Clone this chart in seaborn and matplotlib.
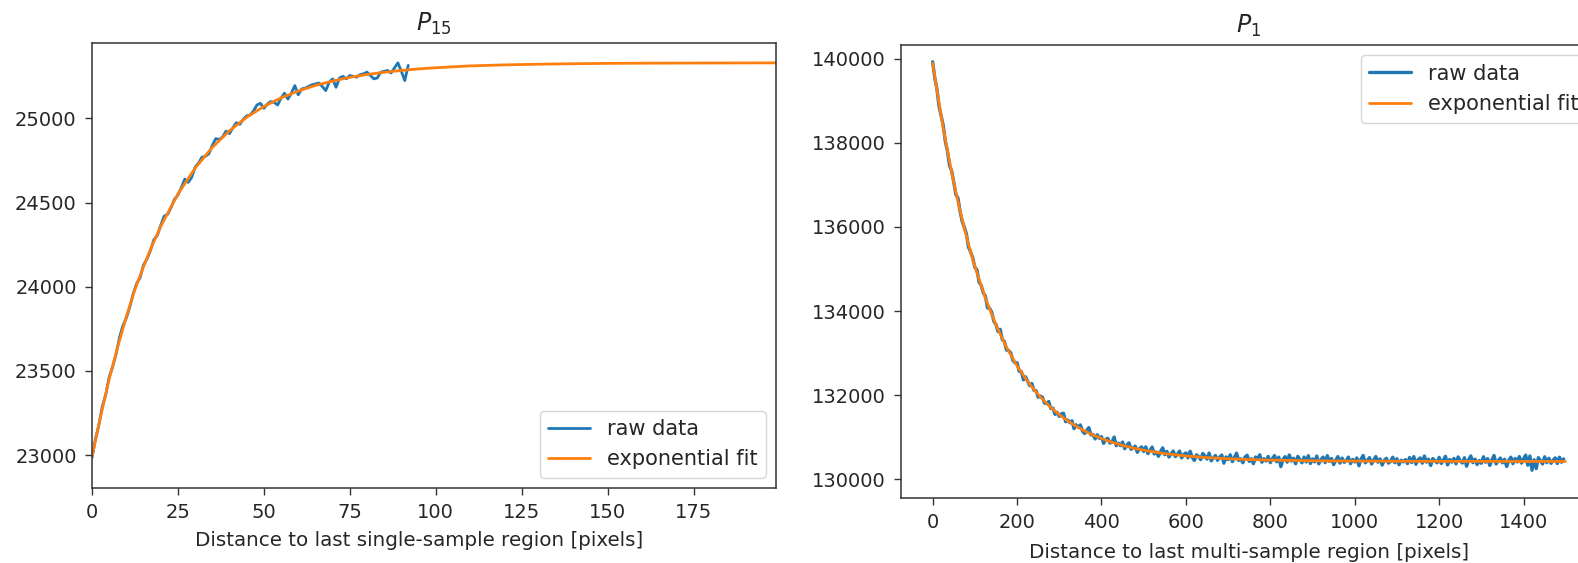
import matplotlib
matplotlib.use("Agg")
import matplotlib.pyplot as plt
import seaborn as sns
import numpy as np

# ---------------- data: left panel (P_15) ----------------
left_raw_x = list(range(0, 93))
left_raw_y = [
    22985, 23095, 23180, 23290, 23360, 23465, 23525, 23600, 23700, 23770,
    23815, 23880, 23960, 24020, 24055, 24130, 24165, 24215, 24280, 24305,
    24365, 24420, 24430, 24470, 24520, 24545, 24590, 24640, 24620, 24650,
    24710, 24735, 24770, 24775, 24790, 24840, 24880, 24875, 24890, 24925,
    24910, 24945, 24975, 24965, 24995, 25015, 25020, 25045, 25080, 25090,
    25060, 25085, 25100, 25095, 25080, 25120, 25150, 25115, 25150, 25195,
    25140, 25175, 25180, 25190, 25200, 25205, 25210, 25190, 25165, 25215,
    25235, 25185, 25240, 25250, 25235, 25255, 25250, 25245, 25260, 25265,
    25275, 25255, 25235, 25240, 25275, 25280, 25285, 25270, 25300, 25330,
    25280, 25225, 25315,
]
left_fit_x = [0, 2.5, 5, 7.5, 10, 12.5, 15, 17.5, 20, 25, 30, 35, 40, 45, 50, 55, 60, 65, 70,
              75, 80, 85, 90, 95, 100, 110, 120, 130, 140, 150, 160, 175, 199]
left_fit_y = [22990, 23230, 23452, 23645, 23823, 23985, 24121, 24245, 24359, 24551, 24705,
              24828, 24927, 25007, 25071, 25122, 25163, 25196, 25222, 25244, 25261, 25274,
              25285, 25294, 25301, 25312, 25318, 25322, 25325, 25327, 25328, 25329, 25330]

# ---------------- data: right panel (P_1) ----------------
right_raw_x = list(range(0, 1500, 5))
right_raw_y = [
    139930, 139547, 139292, 138877, 138648, 138420, 138037, 137808, 137464, 137334,
    137068, 136771, 136686, 136369, 136130, 135994, 135834, 135516, 135405, 135265,
    135036, 134979, 134686, 134610, 134429, 134352, 134076, 134065, 133973, 133756,
    133678, 133509, 133564, 133318, 133275, 133072, 133056, 133004, 132826, 132770,
    132767, 132563, 132561, 132362, 132435, 132331, 132224, 132275, 132113, 132103,
    131950, 131974, 131950, 131809, 131798, 131845, 131678, 131688, 131540, 131588,
    131493, 131554, 131566, 131365, 131405, 131341, 131388, 131202, 131291, 131232,
    131289, 131141, 131085, 131159, 131225, 131051, 131063, 130956, 131055, 130970,
    131010, 130851, 130947, 130969, 130857, 130886, 131000, 130794, 130854, 130795,
    130881, 130723, 130805, 130862, 130710, 130744, 130783, 130637, 130721, 130766,
    130657, 130767, 130608, 130685, 130761, 130598, 130645, 130543, 130660, 130743,
    130582, 130660, 130524, 130603, 130667, 130536, 130591, 130666, 130505, 130590,
    130621, 130506, 130662, 130518, 130444, 130575, 130541, 130463, 130609, 130546,
    130476, 130618, 130435, 130507, 130560, 130447, 130519, 130572, 130379, 130527,
    130464, 130577, 130415, 130513, 130616, 130444, 130482, 130390, 130524, 130567,
    130420, 130484, 130367, 130526, 130475, 130578, 130402, 130486, 130430, 130538,
    130391, 130490, 130559, 130413, 130522, 130296, 130465, 130534, 130403, 130573,
    130427, 130496, 130365, 130540, 130469, 130388, 130523, 130407, 130557, 130371,
    130480, 130409, 130549, 130364, 130464, 130523, 130392, 130557, 130422, 130491,
    130345, 130451, 130535, 130380, 130499, 130399, 130439, 130523, 130368, 130468,
    130408, 130503, 130318, 130478, 130562, 130387, 130442, 130512, 130361, 130456,
    130536, 130401, 130481, 130335, 130445, 130495, 130380, 130425, 130520, 130390,
    130484, 130344, 130449, 130409, 130464, 130369, 130514, 130394, 130534, 130354,
    130459, 130504, 130379, 130549, 130403, 130473, 130323, 130488, 130438, 130387,
    130517, 130372, 130452, 130542, 130337, 130467, 130402, 130492, 130362, 130527,
    130432, 130382, 130507, 130307, 130461, 130551, 130391, 130476, 130346, 130441,
    130376, 130531, 130401, 130486, 130326, 130456, 130561, 130361, 130436, 130501,
    130386, 130471, 130301, 130446, 130521, 130366, 130491, 130406, 130536, 130381,
    130480, 130570, 130330, 130550, 130210, 130460, 130250, 130510, 130440, 130360,
    130530, 130390, 130495, 130375, 130450, 130505, 130370, 130520, 130400, 130480,
]
right_fit_x = [0, 12.5, 25, 37.5, 50, 62.5, 75, 87.5, 100, 125, 150, 175, 200, 225, 250, 275,
               300, 325, 350, 375, 400, 425, 450, 475, 500, 550, 600, 650, 700, 750, 800,
               900, 1000, 1100, 1200, 1300, 1400, 1499]
right_fit_y = [139900, 139110, 138350, 137690, 137053, 136490, 135969, 135495, 135062, 134303,
               133668, 133137, 132693, 132321, 132010, 131750, 131533, 131351, 131199, 131071,
               130965, 130876, 130801, 130739, 130687, 130607, 130551, 130511, 130484, 130465,
               130451, 130435, 130428, 130424, 130422, 130421, 130420, 130420]

titles = ["$P_{15}$", "$P_{1}$"]
xlabels = ["Distance to last single-sample region [pixels]",
           "Distance to last multi-sample region [pixels]"]
series_labels = ["raw data", "exponential fit"]

sns.set_style("ticks")
plt.rcParams["font.family"] = ["DejaVu Sans"]
FS = 14

W, H = 1578, 563
fig = plt.figure(figsize=(W / 100, H / 100), dpi=100)
ax1 = fig.add_axes([92 / W, 1 - 488 / H, (776 - 92) / W, (488 - 43) / H])
ax2 = fig.add_axes([901 / W, 1 - 498 / H, (1597 - 901) / W, (498 - 45) / H])

blue = "#1f77b4"
orange = "#ff7f0e"

for ax, rx, ry, fx, fy, title, xl, rlw, lp in [
    (ax1, left_raw_x, left_raw_y, left_fit_x, left_fit_y, titles[0], xlabels[0], 2.0, 6),
    (ax2, right_raw_x, right_raw_y, right_fit_x, right_fit_y, titles[1], xlabels[1], 2.4, 8),
]:
    sns.lineplot(x=rx, y=ry, ax=ax, color=blue, lw=rlw, label=series_labels[0],
                 estimator=None, sort=False)
    sns.lineplot(x=fx, y=fy, ax=ax, color=orange, lw=2.0, label=series_labels[1],
                 estimator=None, sort=False)
    ax.set_title(title, fontsize=17, pad=9)
    ax.set_xlabel(xl, fontsize=14.3, labelpad=lp)
    ax.set_ylabel("")
    ax.tick_params(labelsize=FS, length=5, width=1, pad=6, color="#333333",
                   labelcolor="#262626")
    for s in ax.spines.values():
        s.set_color("#333333")
        s.set_linewidth(1.1)

ax1.set_xlim(0, 199)
ax1.set_ylim(22805, 25448)
ax1.set_xticks([0, 25, 50, 75, 100, 125, 150, 175])
ax1.set_yticks([23000, 23500, 24000, 24500, 25000])
ax1.xaxis.label.set_x(0.478)
ax1.legend(loc="lower right", fontsize=15, frameon=True)

ax2.set_xlim(-75, 1574)
ax2.set_ylim(129550, 140330)
ax2.set_xticks([0, 200, 400, 600, 800, 1000, 1200, 1400])
ax2.set_yticks([130000, 132000, 134000, 136000, 138000, 140000])
ax2.legend(loc="upper right", fontsize=15, frameon=True)

fig.savefig("out.png", dpi=100)
